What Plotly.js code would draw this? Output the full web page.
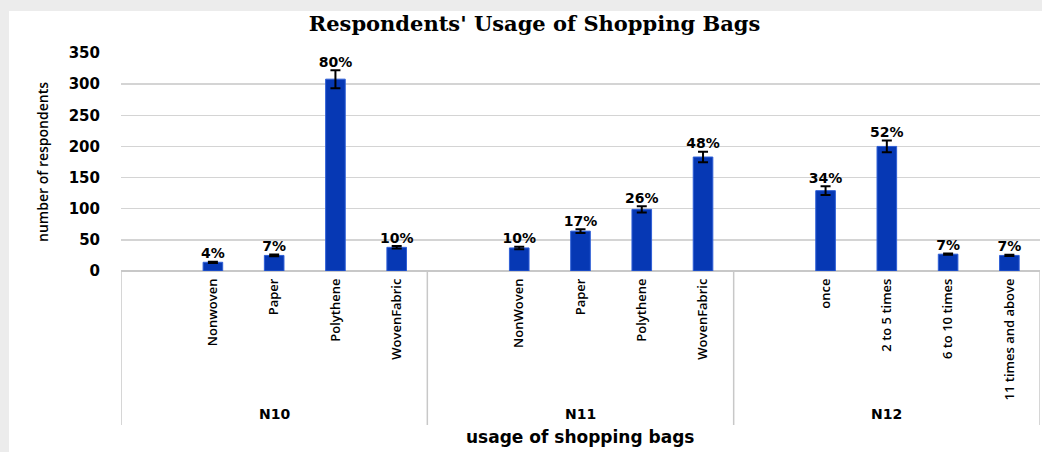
<!DOCTYPE html>
<html>
<head>
<meta charset="utf-8">
<script src="https://cdn.plot.ly/plotly-3.0.1.min.js"></script>
<style>html,body{margin:0;padding:0;background:#fff;}#chart{width:1042px;height:452px;}</style>
</head>
<body>
<div id="chart"></div>
<script>
// ---- data ----
const groups = ['N10', 'N11', 'N12'];

const n10Labels = ['Nonwoven', 'Paper', 'Polythene', 'WovenFabric'];
const n10Values = [14, 25, 308, 38];
const n10Errors = [1, 1.5, 14.5, 2];
const n10Pct = ['4%', '7%', '80%', '10%'];

const n11Labels = ['NonWoven', 'Paper', 'Polythene', 'WovenFabric'];
const n11Values = [37, 64, 99, 183];
const n11Errors = [2, 3, 5, 8.5];
const n11Pct = ['10%', '17%', '26%', '48%'];

const n12Labels = ['once', '2 to 5 times', '6 to 10 times', '11 times and above'];
const n12Values = [129, 200, 27, 25];
const n12Errors = [7, 9.5, 1, 1];
const n12Pct = ['34%', '52%', '7%', '7%'];

const yTicks = [0, 50, 100, 150, 200, 250, 300, 350];

// ---- build slots: each group has one empty leading slot + 4 bars ----
const groupLabels = [n10Labels, n11Labels, n12Labels];
const groupValues = [n10Values, n11Values, n12Values];
const groupErrors = [n10Errors, n11Errors, n12Errors];
const groupPct = [n10Pct, n11Pct, n12Pct];
const slotsPerGroup = 5;

const xs = [], ys = [], errs = [], pcts = [], tickText = [], tops = [];
groupLabels.forEach((labels, g) => {
  labels.forEach((lab, i) => {
    const x = g * slotsPerGroup + 1 + i;
    xs.push(x);
    ys.push(groupValues[g][i]);
    errs.push(groupErrors[g][i]);
    pcts.push(groupPct[g][i]);
    tops.push(groupValues[g][i] + groupErrors[g][i]);
    tickText.push(lab);
  });
});
const nSlots = groups.length * slotsPerGroup;

const barTrace = {
  type: 'bar',
  x: xs,
  y: ys,
  width: 0.32,
  marker: { color: '#0638b4', line: { color: '#2f5fd6', width: 1 } },
  error_y: { type: 'data', array: errs, visible: true, color: '#000', thickness: 2, width: 5 },
  hoverinfo: 'skip',
  showlegend: false
};
const textTrace = {
  type: 'scatter',
  mode: 'text',
  x: xs,
  y: tops,
  text: pcts,
  textposition: 'top center',
  textfont: { family: 'DejaVu Sans', size: 14, color: '#000', weight: 'bold' },
  hoverinfo: 'skip',
  showlegend: false,
  cliponaxis: false
};

// group dividers and labels
const plotH = 218; // px height of plot area
const dividerBottom = -154 / plotH;
const shapes = [];
const annotations = [];
for (let g = 0; g <= groups.length; g++) {
  shapes.push({
    type: 'line', xref: 'x', yref: 'paper',
    x0: g * slotsPerGroup - 0.5, x1: g * slotsPerGroup - 0.5,
    y0: 0, y1: dividerBottom,
    line: { color: '#c8c8c8', width: 1.5 }
  });
}
groups.forEach((name, g) => {
  annotations.push({
    xref: 'x', yref: 'paper',
    x: g * slotsPerGroup + (slotsPerGroup - 1) / 2,
    y: -143 / plotH,
    text: '<b>' + name + '</b>',
    showarrow: false,
    yanchor: 'middle',
    font: { family: 'DejaVu Sans', size: 14, color: '#000' }
  });
});
// x-axis title (below the group labels)
annotations.push({
  xref: 'paper', yref: 'paper',
  x: 0.5, y: -166 / plotH,
  text: '<b>usage of shopping bags</b>',
  showarrow: false,
  yanchor: 'middle',
  font: { family: 'DejaVu Sans', size: 17, color: '#000' }
});
// gray outer frame (top / left) behind the white chart sheet
shapes.push({
  type: 'rect', xref: 'paper', yref: 'paper', layer: 'below',
  x0: -121 / 919, x1: (1042 - 121) / 919,
  y0: 1 + 53 / plotH, y1: 1 + 42 / plotH,
  fillcolor: '#ececec', line: { width: 0 }
});
shapes.push({
  type: 'rect', xref: 'paper', yref: 'paper', layer: 'below',
  x0: -121 / 919, x1: -112 / 919,
  y0: 1 + 53 / plotH, y1: -181 / plotH,
  fillcolor: '#ececec', line: { width: 0 }
});

const layout = {
  width: 1042,
  height: 452,
  margin: { l: 121, r: 2, t: 53, b: 181 },
  paper_bgcolor: '#ffffff',
  plot_bgcolor: '#ffffff',
  title: {
    text: "<b>Respondents' Usage of Shopping Bags</b>",
    font: { family: 'DejaVu Serif', size: 21, color: '#000' },
    x: 0.513, xanchor: 'center',
    y: 1 - 24 / 452, yanchor: 'middle', yref: 'container'
  },
  xaxis: {
    range: [-0.5, nSlots - 0.5],
    tickmode: 'array',
    tickvals: xs,
    ticktext: tickText,
    tickangle: -90,
    ticks: '',
    showgrid: false,
    zeroline: false,
    showline: false,
    tickfont: { family: 'Open Sans', size: 13, color: '#000', weight: 600 },
    ticklabelstandoff: 4,
    automargin: false
  },
  yaxis: {
    range: [0, 350],
    tickmode: 'array',
    tickvals: yTicks,
    ticks: '',
    showgrid: true,
    gridcolor: '#d4d4d4',
    gridwidth: 1.5,
    zeroline: true,
    zerolinecolor: '#c8c8c8',
    zerolinewidth: 1.5,
    showline: false,
    tickfont: { family: 'DejaVu Sans', size: 15, color: '#000', weight: 'bold' },
    ticklabelstandoff: 20,
    title: {
      text: 'number of respondents',
      font: { family: 'Open Sans', size: 14, color: '#000', weight: 600 },
      standoff: 16
    },
    automargin: false
  },
  shapes: shapes,
  annotations: annotations,
  bargap: 0
};

Plotly.newPlot('chart', [barTrace, textTrace], layout, { displayModeBar: false, staticPlot: true });
</script>
</body>
</html>
